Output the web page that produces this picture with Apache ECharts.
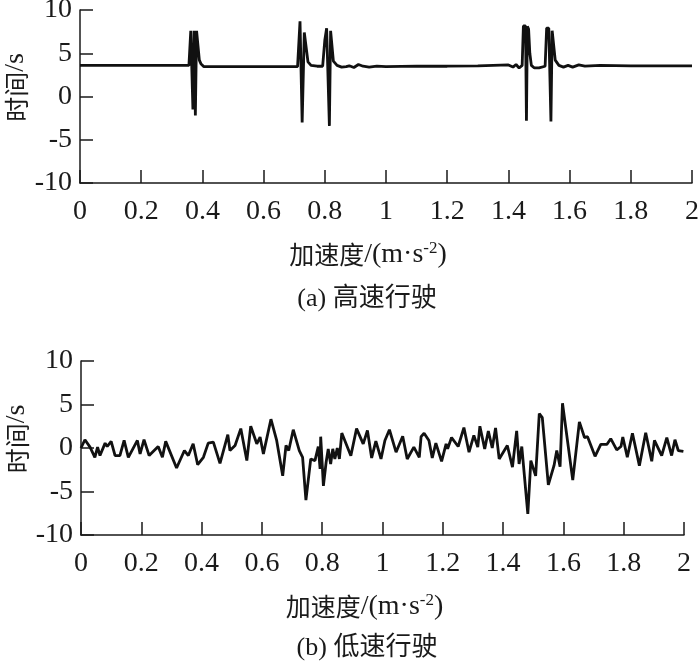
<!DOCTYPE html>
<html>
<head>
<meta charset="utf-8">
<script src="https://cdn.jsdelivr.net/npm/echarts@6/dist/echarts.min.js"></script>
<style>html,body{margin:0;padding:0;background:#fff;}#c{width:700px;height:666px;}</style>
</head>
<body>
<div id="c"></div>
<script>
// ---- data (x: 加速度, y: 时间) ----
const xTicks = [0, 0.2, 0.4, 0.6, 0.8, 1, 1.2, 1.4, 1.6, 1.8, 2];
const yTicks = [-10, -5, 0, 5, 10];
const captionA = '(a) 高速行驶';
const captionB = '(b) 低速行驶';

const highSpeedX = [0, 0.356, 0.362, 0.366, 0.369, 0.373, 0.377, 0.381, 0.385, 0.39, 0.395, 0.405, 0.45, 0.6, 0.711, 0.719, 0.726, 0.733, 0.745, 0.755, 0.775, 0.793, 0.8, 0.806, 0.81, 0.815, 0.819, 0.822, 0.828, 0.84, 0.855, 0.87, 0.88, 0.895, 0.91, 0.925, 0.945, 0.97, 1.0, 1.1, 1.2, 1.3, 1.4, 1.415, 1.425, 1.435, 1.445, 1.449, 1.456, 1.459, 1.462, 1.466, 1.47, 1.475, 1.485, 1.5, 1.52, 1.525, 1.532, 1.539, 1.543, 1.547, 1.553, 1.565, 1.58, 1.595, 1.61, 1.63, 1.65, 1.7, 1.8, 2.0];
const highSpeedY = [3.6, 3.6, 7.6, 7.6, -1.5, 7.6, -2.2, 7.6, 7.5, 4.2, 3.8, 3.45, 3.45, 3.45, 3.45, 8.7, -3.0, 7.4, 4.0, 3.6, 3.5, 3.5, 6.5, 7.9, 7.8, -3.4, 7.6, 7.5, 4.1, 3.6, 3.4, 3.45, 3.55, 3.35, 3.7, 3.5, 3.4, 3.5, 3.45, 3.5, 3.5, 3.55, 3.65, 3.4, 3.7, 3.3, 3.6, 8.15, 8.15, -2.8, 8.1, 7.8, 5.0, 3.6, 3.3, 3.3, 3.5, 7.9, 7.9, -2.9, 7.6, 7.5, 4.2, 3.6, 3.4, 3.6, 3.4, 3.65, 3.5, 3.6, 3.55, 3.55];

const lowSpeedX = [0, 0.013, 0.03, 0.046, 0.055, 0.063, 0.08, 0.087, 0.1, 0.113, 0.129, 0.143, 0.157, 0.187, 0.196, 0.209, 0.226, 0.256, 0.27, 0.281, 0.317, 0.343, 0.356, 0.372, 0.387, 0.406, 0.422, 0.439, 0.461, 0.487, 0.494, 0.511, 0.53, 0.55, 0.563, 0.583, 0.594, 0.605, 0.63, 0.649, 0.669, 0.68, 0.689, 0.704, 0.724, 0.735, 0.746, 0.762, 0.776, 0.787, 0.793, 0.795, 0.804, 0.813, 0.82, 0.828, 0.835, 0.842, 0.85, 0.857, 0.865, 0.895, 0.914, 0.936, 0.95, 0.964, 0.978, 0.995, 1.008, 1.023, 1.045, 1.067, 1.082, 1.104, 1.122, 1.128, 1.138, 1.154, 1.165, 1.177, 1.196, 1.211, 1.216, 1.229, 1.251, 1.27, 1.287, 1.303, 1.316, 1.323, 1.339, 1.351, 1.364, 1.375, 1.387, 1.414, 1.431, 1.445, 1.453, 1.462, 1.482, 1.492, 1.508, 1.52, 1.53, 1.55, 1.569, 1.578, 1.589, 1.597, 1.631, 1.653, 1.67, 1.68, 1.705, 1.724, 1.744, 1.757, 1.777, 1.791, 1.797, 1.812, 1.829, 1.852, 1.873, 1.893, 1.902, 1.926, 1.943, 1.959, 1.97, 1.981, 1.998];
const lowSpeedY = [0.0, 0.95, 0.1, -1.07, 0.1, -0.87, 0.56, 0.17, 0.76, -0.87, -0.87, 0.87, -1.07, 0.87, -0.68, 0.95, -0.87, 0.17, -1.07, 0.76, -2.3, -0.29, -0.87, 0.48, -1.92, -1.07, 0.56, 0.68, -1.76, 1.53, -0.29, 0.29, 2.23, -1.45, 2.5, 0.48, 1.26, -0.68, 3.31, 0.87, -3.2, 0.29, -0.29, 2.1, -0.29, -1.07, -6.0, -1.26, -1.45, 0.17, -2.4, 1.3, -4.36, -1.64, -0.1, -1.84, -0.1, -1.26, 0.0, -1.26, 1.72, -0.9, 2.23, 0.48, 2.03, -1.14, 0.8, -1.26, 0.87, 2.1, -0.48, 1.36, -1.26, 0.1, -1.07, 1.3, 1.69, 0.87, -1.14, 0.56, -1.53, 0.48, -0.1, 1.2, 0.17, 2.34, -0.48, 1.45, 0.1, 2.5, -0.1, 1.96, 0.0, 2.3, -1.26, 0.29, -2.2, 1.96, -1.84, 0.17, -7.58, -1.45, -3.2, 3.97, 3.5, -4.24, -2.0, -0.29, -2.15, 5.14, -3.7, 3.0, 1.2, 1.3, -0.95, 0.41, 0.41, 1.07, -0.21, 0.17, 1.26, -1.07, 1.69, -2.03, 1.76, -1.53, 0.87, -0.87, 1.2, -0.87, 0.95, -0.29, -0.4];

// ---- chart ----
const zip = (xs, ys) => xs.map((x, i) => [x, ys[i]]);
const INK = '#1a1a1a';
const SERIF = '"Liberation Serif", "Times New Roman", serif';
const CJK = '"Noto Sans CJK SC", sans-serif';

function xAxis(gi) {
  return {
    type: 'value', gridIndex: gi, min: xTicks[0], max: xTicks[xTicks.length - 1],
    interval: xTicks[1] - xTicks[0],
    axisLine: { show: true, onZero: false, lineStyle: { color: INK, width: 1.5 } },
    axisTick: { show: true, inside: true, length: 13, lineStyle: { color: INK, width: 1.5 } },
    splitLine: { show: false },
    axisLabel: { margin: 15, fontSize: 28, fontFamily: SERIF, color: INK,
      showMinLabel: true, showMaxLabel: true,
      formatter: v => String(+(+v).toFixed(1)) },
    name: '{c|加速度}{e|/(m·s}{s|-2}{e|)}',
    nameLocation: 'middle', nameGap: 57, nameMoveOverlap: false,
    nameTextStyle: { color: INK, padding: [0, 36, 0, 0], rich: {
      c: { fontFamily: CJK, fontSize: 25, color: INK },
      e: { fontFamily: SERIF, fontSize: 28, color: INK },
      s: { fontFamily: SERIF, fontSize: 17, color: INK, verticalAlign: 'top', padding: [0, 0, 12, 0] }
    } }
  };
}
function yAxis(gi) {
  return {
    type: 'value', gridIndex: gi, min: yTicks[0], max: yTicks[yTicks.length - 1],
    interval: yTicks[1] - yTicks[0],
    axisLine: { show: true, onZero: false, lineStyle: { color: INK, width: 1.5 } },
    axisTick: { show: true, inside: true, length: 13, lineStyle: { color: INK, width: 1.5 } },
    splitLine: { show: false },
    axisLabel: { margin: 8, fontSize: 28, fontFamily: SERIF, color: INK },
    name: '{c|时间}{e|/s}', nameLocation: 'middle', nameGap: 50, nameRotate: 90, nameMoveOverlap: false,
    nameTextStyle: { color: INK, padding: [0, 0, 0, 18], rich: {
      c: { fontFamily: CJK, fontSize: 25, color: INK },
      e: { fontFamily: SERIF, fontSize: 28, color: INK }
    } }
  };
}

const chart = echarts.init(document.getElementById('c'), null, { renderer: 'canvas' });
chart.setOption({
  animation: false,
  backgroundColor: '#fff',
  grid: [
    { left: 80, right: 8, top: 10, bottom: 483, containLabel: false, outerBoundsMode: 'none' },
    { left: 81, right: 16, top: 361, bottom: 131, containLabel: false, outerBoundsMode: 'none' }
  ],
  xAxis: [xAxis(0), xAxis(1)],
  yAxis: [yAxis(0), yAxis(1)],
  series: [
    { type: 'line', xAxisIndex: 0, yAxisIndex: 0, data: zip(highSpeedX, highSpeedY),
      showSymbol: false, lineStyle: { color: '#111', width: 2.8 } },
    { type: 'line', xAxisIndex: 1, yAxisIndex: 1, data: zip(lowSpeedX, lowSpeedY),
      showSymbol: false, lineStyle: { color: '#111', width: 2.8 } }
  ],
  graphic: [
    { type: 'text', x: 367, y: 299, style: { text: captionA, textAlign: 'center', textVerticalAlign: 'middle',
      font: '26px "Liberation Serif", "Noto Sans CJK SC"', fill: INK } },
    { type: 'text', x: 367, y: 648, style: { text: captionB, textAlign: 'center', textVerticalAlign: 'middle',
      font: '26px "Liberation Serif", "Noto Sans CJK SC"', fill: INK } }
  ]
});
</script>
</body>
</html>
